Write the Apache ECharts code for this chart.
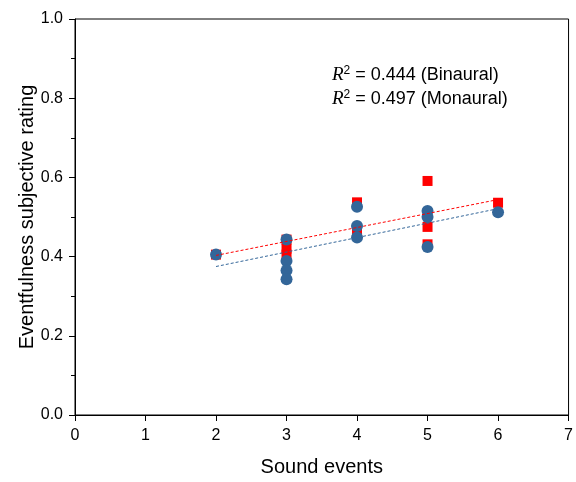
<!DOCTYPE html>
<html><head><meta charset="utf-8">
<script src="https://cdn.jsdelivr.net/npm/echarts@6/dist/echarts.min.js"></script>
<style>html,body{margin:0;padding:0;background:#fff}#c{width:576px;height:482px}</style>
</head><body><div id="c"></div>
<script>
const binauralX = [2, 3, 3, 3, 4, 4, 5, 5, 5, 6];
const binauralY = [0.405, 0.443, 0.420, 0.405, 0.537, 0.462, 0.591, 0.475, 0.431, 0.536];
const monauralX = [2, 3, 3, 3, 3, 4, 4, 4, 5, 5, 5, 6];
const monauralY = [0.405, 0.443, 0.389, 0.365, 0.343, 0.526, 0.477, 0.448, 0.515, 0.500, 0.424, 0.512];
const fitX = [2, 6];
const binauralFit = [0.403, 0.544];
const monauralFit = [0.375, 0.521];
const xTicks = [0, 1, 2, 3, 4, 5, 6, 7];
const yTicks = [0.0, 0.2, 0.4, 0.6, 0.8, 1.0];
const annotations = ['0.444 (Binaural)', '0.497 (Monaural)'];

const zip = (a, b) => a.map((v, i) => [v, b[i]]);
const FONT = 'Liberation Sans, Arial, sans-serif';
const chart = echarts.init(document.getElementById('c'));
chart.setOption({
  animation: false,
  grid: {left: 75, right: 7, top: 19, bottom: 66, show: true, borderColor: '#000', borderWidth: 1, backgroundColor: 'transparent'},
  xAxis: {
    type: 'value', min: xTicks[0], max: xTicks[xTicks.length - 1], interval: 1,
    name: 'Sound events', nameLocation: 'middle', nameGap: 42, nameMoveOverlap: false,
    nameTextStyle: {fontFamily: FONT, fontSize: 20, color: '#000'},
    axisLine: {show: true, onZero: false, lineStyle: {color: '#000', width: 1}},
    axisTick: {show: true, inside: false, length: 6, lineStyle: {color: '#000'}},
    axisLabel: {fontFamily: FONT, fontSize: 16, color: '#000', margin: 13},
    splitLine: {show: false}
  },
  yAxis: {
    type: 'value', min: yTicks[0], max: yTicks[yTicks.length - 1], interval: 0.2,
    name: 'Eventfulness subjective rating', nameLocation: 'middle', nameGap: 38, nameMoveOverlap: false,
    nameTextStyle: {fontFamily: FONT, fontSize: 20, color: '#000'},
    axisLine: {show: true, onZero: false, lineStyle: {color: '#000', width: 1}},
    axisTick: {show: true, inside: false, length: 6, lineStyle: {color: '#000'}},
    minorTick: {show: true, splitNumber: 2, length: 4, lineStyle: {color: '#000'}},
    axisLabel: {fontFamily: FONT, fontSize: 16, color: '#000', margin: 12, formatter: v => v.toFixed(1)},
    splitLine: {show: false}, minorSplitLine: {show: false}
  },
  series: [
    {type: 'scatter', name: 'Binaural', data: zip(binauralX, binauralY), symbol: 'rect', symbolSize: 10,
     itemStyle: {color: '#ff0000', opacity: 1}, z: 2},
    {type: 'scatter', name: 'Monaural', data: zip(monauralX, monauralY), symbol: 'circle', symbolSize: 12,
     itemStyle: {color: '#336699', opacity: 1}, z: 3},
    {type: 'line', data: zip(fitX, binauralFit), symbol: 'none', lineStyle: {color: '#ff0000', width: 1, type: [3, 2]}, z: 4},
    {type: 'line', data: zip(fitX, monauralFit), symbol: 'none', lineStyle: {color: '#336699', width: 1, type: [3, 2]}, z: 4}
  ],
  graphic: annotations.map((t, i) => ({
    type: 'text', left: 332, top: 65 + i * 24, z: 10,
    style: {
      text: '{r|R}{s|2}{t| = ' + t + '}',
      rich: {
        r: {fontFamily: 'Liberation Serif, Times New Roman, serif', fontStyle: 'italic', fontSize: 19, fill: '#000'},
        s: {fontFamily: FONT, fontSize: 12, fill: '#000', verticalAlign: 'top', padding: [0, 0, 8, 0]},
        t: {fontFamily: FONT, fontSize: 18, fill: '#000'}
      }
    }
  }))
});
</script></body></html>
